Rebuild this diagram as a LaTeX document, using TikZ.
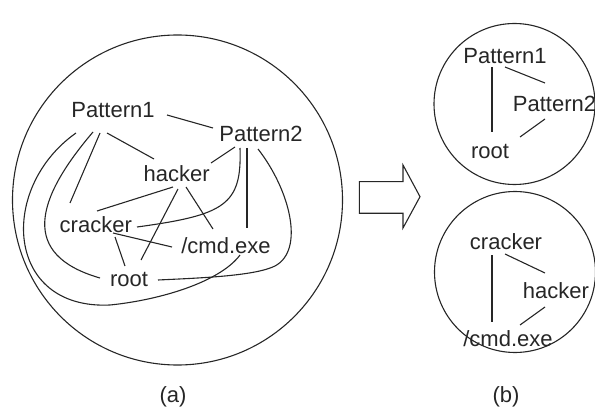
\documentclass[tikz,border=0pt]{standalone}
\usepackage{fontspec}
\setmainfont{Liberation Sans}
\begin{document}
\begin{tikzpicture}[x=1pt,y=-1pt,
  term/.style={anchor=base,inner sep=0pt,font=\fontsize{22}{26}\selectfont,text=black!85},
  link/.style={line width=1.1pt,draw=black!85},
  ring/.style={line width=1.1pt,draw=black!85}]
\useasboundingbox (0,0) rectangle (595,409);

% ---------- (a) full keyword graph ----------
\draw[ring] (177.5,200) circle[radius=165pt];

\node[term] (P1a) at (113,117.7) {Pattern1};
\node[term] (P2a) at (261,141.7) {Pattern2};
\node[term] (Ha)  at (176.7,181.7) {hacker};
\node[term] (Ca)  at (95.8,232.7) {cracker};
\node[term] (Xa)  at (226,254) {/cmd.exe};
\node[term] (Ra)  at (129,286) {root};

% straight links
\draw[link] ([shift={(54,-2.7)}]P1a.base) -- ([shift={(-48,-13.7)}]P2a.base);
\draw[link] ([shift={(-6,15.3)}]P1a.base) -- ([shift={(-22.7,-22.7)}]Ha.base);
\draw[link] ([shift={(-13,15.3)}]P1a.base) -- ([shift={(-25.8,-29.7)}]Ca.base);
\draw[link] ([shift={(-26,5.3)}]P2a.base) -- ([shift={(34.3,-18.7)}]Ha.base);
\draw[link] ([shift={(-14,6.3)}]P2a.base) -- ([shift={(21,-26)}]Xa.base);
\draw[link] ([shift={(-3.7,5.3)}]Ha.base) -- ([shift={(1.2,-21.7)}]Ca.base);
\draw[link] ([shift={(1.3,7.3)}]Ha.base) -- ([shift={(12,-26)}]Ra.base);
\draw[link] ([shift={(9.3,5.3)}]Ha.base) -- ([shift={(-13,-25)}]Xa.base);
\draw[link] ([shift={(17.2,0.3)}]Ca.base) -- ([shift={(-54,-7)}]Xa.base);
\draw[link] ([shift={(19.2,4.3)}]Ca.base) -- ([shift={(-4,-20)}]Ra.base);

% curved links
\draw[link] ([shift={(-20,14.3)}]P1a.base)
  .. controls (35,200) and (20,255) .. ([shift={(-29,-8)}]Ra.base);
\draw[link] ([shift={(-37,15.3)}]P1a.base)
  .. controls (-2,188) and (5,310) .. (110,305)
  .. controls (160,300) and (220,282) .. ([shift={(14,1)}]Xa.base);
\draw[link] ([shift={(-21,6.3)}]P2a.base)
  .. controls (242,205) and (225,215) .. ([shift={(41.2,-5.7)}]Ca.base);
\draw[link] ([shift={(-3,7.3)}]P2a.base)
  .. controls (290,190) and (305,250) .. (275,266)
  .. controls (255,276) and (200,278) .. ([shift={(29,-6)}]Ra.base);

\node[term] (la) at (173,402.4) {(a)};

% ---------- hollow block arrow ----------
\draw[ring,line join=miter] (359.3,181.7) -- (403,181.7) -- (403,165) -- (420,196.7)
  -- (403,228) -- (403,213.3) -- (359.3,213.3) -- cycle;

% ---------- (b) split groups ----------
\draw[ring] (514.5,104) circle[radius=80.5pt];
\draw[ring] (515,272) circle[radius=80.5pt];

\node[term] (P1b) at (505,63.3) {Pattern1};
\node[term] (P2b) at (554.5,111.7) {Pattern2};
\node[term] (Rb)  at (490,158.3) {root};
\draw[link] ([shift={(-13,3.7)}]P1b.base) -- ([shift={(2,-26.3)}]Rb.base);
\draw[link] ([shift={(0,3.7)}]P1b.base) -- ([shift={(-9.5,-28.7)}]P2b.base);
\draw[link] ([shift={(-9.5,7.3)}]P2b.base) -- ([shift={(30,-21.3)}]Rb.base);

\node[term] (Cb) at (506,249.3) {cracker};
\node[term] (Hb) at (556,298.3) {hacker};
\node[term] (Xb) at (508,346) {/cmd.exe};
\draw[link] ([shift={(-14,5.7)}]Cb.base) -- ([shift={(-16,-24)}]Xb.base);
\draw[link] ([shift={(-1,4.7)}]Cb.base) -- ([shift={(-11,-25.3)}]Hb.base);
\draw[link] ([shift={(-11,8.7)}]Hb.base) -- ([shift={(12,-21)}]Xb.base);

\node[term] (lb) at (506,402) {(b)};
\end{tikzpicture}
\end{document}
